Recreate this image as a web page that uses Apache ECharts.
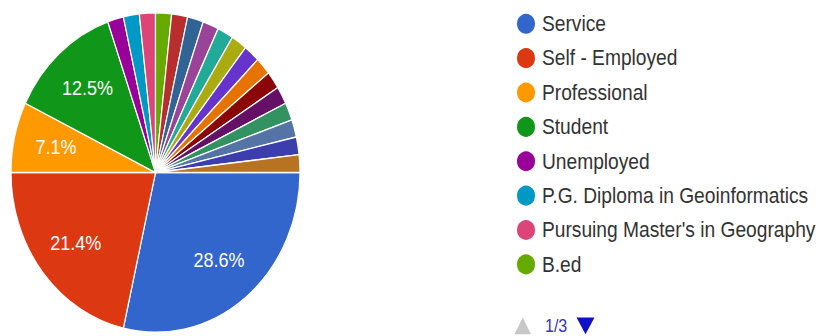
<!DOCTYPE html>
<html>
<head>
<meta charset="utf-8">
<script src="https://cdn.jsdelivr.net/npm/echarts@6/dist/echarts.min.js"></script>
<style>
  html, body { margin: 0; padding: 0; background: #fff; overflow: hidden; }
  #wrap { width: 824px; height: 336px; overflow: hidden; position: relative; }
  #chart { width: 824px; height: 304px; transform: scale(1, 1.10526); transform-origin: 0 0; }
</style>
</head>
<body>
<div id="wrap"><div id="chart"></div></div>
<script>
const categories = [
  'Service', 'Self - Employed', 'Professional', 'Student', 'Unemployed',
  'P.G. Diploma in Geoinformatics', "Pursuing Master's in Geography", 'B.ed',
  'Other 1', 'Other 2', 'Other 3', 'Other 4', 'Other 5', 'Other 6', 'Other 7',
  'Other 8', 'Other 9', 'Other 10', 'Other 11', 'Other 12', 'Other 13'
];
const counts = [16, 12, 4, 7, 1, 1, 1, 1, 1, 1, 1, 1, 1, 1, 1, 1, 1, 1, 1, 1, 1];
const palette = [
  '#3366cc', '#dc3912', '#ff9900', '#109618', '#990099', '#0099c6', '#dd4477',
  '#66aa00', '#b82e2e', '#316395', '#994499', '#22aa99', '#aaaa11', '#6633cc',
  '#e67300', '#8b0707', '#651067', '#329262', '#5574a6', '#3b3eac', '#b77322'
];
const labelMinPercent = 5;
const legendPageSize = 8;
const currentPage = 1;

const total = counts.reduce((a, b) => a + b, 0);
const pieData = categories.map((name, i) => ({ name: name, value: counts[i] }));
const labelData = categories.map((name, i) => ({
  name: name,
  value: counts[i],
  label: { show: counts[i] / total * 100 >= labelMinPercent }
}));
const pageCount = Math.ceil(categories.length / legendPageSize);
const FONT = 'Liberation Sans, Arial, sans-serif';

const chart = echarts.init(document.getElementById('chart'), null, { renderer: 'svg' });
const center = [155.5, 156.1];
chart.setOption({
  animation: false,
  color: palette,
  legend: {
    type: 'plain',
    orient: 'vertical',
    left: 515,
    top: 10.5,
    padding: 0,
    icon: 'circle',
    itemWidth: 22,
    itemHeight: 20,
    itemGap: 9.1,
    textStyle: { fontFamily: FONT, fontSize: 19.2, color: '#333' },
    data: categories.slice((currentPage - 1) * legendPageSize, currentPage * legendPageSize)
  },
  graphic: [
    {
      type: 'polygon',
      silent: true,
      shape: { points: [[514.5, 302.5], [531, 302.5], [522.75, 287.2]] },
      style: { fill: '#c8c8c8' }
    },
    {
      type: 'text',
      silent: true,
      x: 545,
      y: 295,
      style: {
        text: currentPage + '/' + pageCount,
        fill: '#3535c8',
        fontSize: 16,
        fontFamily: FONT,
        verticalAlign: 'middle',
        align: 'left'
      }
    },
    {
      type: 'polygon',
      silent: true,
      shape: { points: [[576.5, 287.2], [594.5, 287.2], [585.5, 302.5]] },
      style: { fill: '#1010c8' }
    }
  ],
  series: [
    {
      type: 'pie',
      name: 'pie',
      center: center,
      radius: [0, 144.5],
      startAngle: 0,
      clockwise: true,
      itemStyle: { borderColor: '#ffffff', borderWidth: 1.2 },
      label: { show: false },
      labelLine: { show: false },
      emphasis: { scale: false },
      data: pieData
    },
    {
      type: 'pie',
      name: 'labels',
      center: center,
      radius: [54, 144],
      startAngle: 0,
      clockwise: true,
      silent: true,
      z: 5,
      itemStyle: { color: 'rgba(0,0,0,0)', borderWidth: 0 },
      label: {
        position: 'inside',
        formatter: (p) => (p.value / total * 100).toFixed(1) + '%',
        color: '#ffffff',
        fontSize: 18,
        fontFamily: FONT
      },
      labelLine: { show: false },
      emphasis: { disabled: true },
      data: labelData
    }
  ]
});
</script>
</body>
</html>
